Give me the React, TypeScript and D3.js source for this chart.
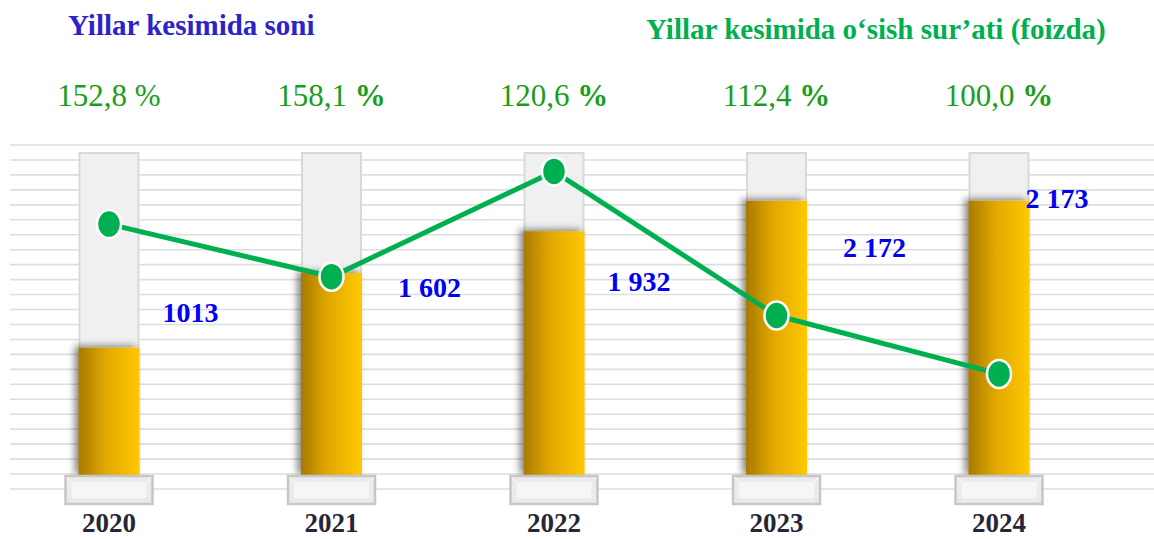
import React from 'react';
import * as d3 from 'd3';

// ---- data ----
const years = ['2020', '2021', '2022', '2023', '2024'];
const counts = [1013, 1602, 1932, 2172, 2173];
const countLabels = ['1013', '1 602', '1 932', '2 172', '2 173'];
const growthLabels = ['152,8', '158,1', '120,6', '112,4', '100,0'];
const growthBoldPct = [false, true, true, true, true];
// decorative trend line, position on a 0–100 index (0 = base, 100 = column top)
const trendIndex = [78.0, 61.7, 94.3, 49.7, 31.6];

// ---- layout (kept apart from data) ----
const W = 1154;
const H = 539;
const baseY = 476;
const colTop = 153;
const barW = 61;
const pedW = 87;
const pedH = 28;
const labelNudge: [number, number][] = [
  [23, -26],
  [36, 24],
  [23, 60],
  [36, 56],
  [-4, 7],
];

const x = d3.scalePoint<string>().domain(years).range([109, 999]);
const y = d3.scaleLinear().domain([0, 2550]).range([baseY, colTop]);
const yT = d3.scaleLinear().domain([0, 100]).range([baseY, colTop]);
const grid = d3.scaleLinear().domain([0, 23]).range([489, 145]);

const serif = '"Liberation Serif", "Times New Roman", serif';

export default function App() {
  const line = d3
    .line<number>()
    .x((_, i) => x(years[i]) as number)
    .y((d) => yT(d));

  return (
    <div style={{ position: 'absolute', left: 0, top: 0 }}>
      <svg width={W} height={H} style={{ display: 'block', background: '#fff' }}>
        <defs>
          <linearGradient id="gold" x1="0" x2="1" y1="0" y2="0">
            <stop offset="0" stopColor="#a87a00" />
            <stop offset="0.45" stopColor="#e2a800" />
            <stop offset="1" stopColor="#ffc800" />
          </linearGradient>
          <filter id="shadow" x="-40%" y="-10%" width="160%" height="120%">
            <feDropShadow dx="-4" dy="-2" stdDeviation="3.5" floodColor="#000" floodOpacity="0.45" />
          </filter>
        </defs>

        {/* grid lines */}
        {d3.range(24).map((i) => (
          <line key={i} x1={10} x2={W} y1={grid(i)} y2={grid(i)} stroke="#dedede" strokeWidth={1.6} />
        ))}

        {/* background columns */}
        {years.map((yr) => {
          const cx = x(yr) as number;
          return (
            <rect
              key={'c' + yr}
              x={cx - barW / 2 + 1}
              y={colTop}
              width={barW - 2}
              height={baseY - colTop}
              fill="#f0f0f0"
              stroke="#d9d9d9"
              strokeWidth={2}
            />
          );
        })}

        {/* gold bars */}
        {years.map((yr, i) => {
          const cx = x(yr) as number;
          return (
            <rect
              key={'b' + yr}
              x={cx - barW / 2}
              y={y(counts[i])}
              width={barW}
              height={baseY - y(counts[i])}
              fill="url(#gold)"
              filter="url(#shadow)"
            />
          );
        })}

        {/* pedestals */}
        {years.map((yr) => {
          const cx = x(yr) as number;
          const px = cx - pedW / 2;
          const py = baseY;
          const ins = 6;
          return (
            <g key={'p' + yr}>
              <rect x={px} y={py} width={pedW} height={pedH} fill="#ebebeb" stroke="#c6c6c6" strokeWidth={2.5} />
              <rect x={px + ins} y={py + ins} width={pedW - 2 * ins} height={pedH - 2 * ins} fill="#f6f6f6" />
              <line x1={px + 1} y1={py + 1} x2={px + ins} y2={py + ins} stroke="#fbfbfb" strokeWidth={1} />
              <line x1={px + pedW - 1} y1={py + 1} x2={px + pedW - ins} y2={py + ins} stroke="#fbfbfb" strokeWidth={1} />
              <line x1={px + 1} y1={py + pedH - 1} x2={px + ins} y2={py + pedH - ins} stroke="#e2e2e2" strokeWidth={1} />
              <line x1={px + pedW - 1} y1={py + pedH - 1} x2={px + pedW - ins} y2={py + pedH - ins} stroke="#e2e2e2" strokeWidth={1} />
            </g>
          );
        })}

        {/* trend line */}
        <path d={line(trendIndex) || ''} fill="none" stroke="#00b050" strokeWidth={5} strokeLinejoin="round" />
        {trendIndex.map((v, i) => (
          <ellipse
            key={'m' + i}
            cx={x(years[i]) as number}
            cy={yT(v)}
            rx={12}
            ry={14}
            fill="#00b050"
            stroke="#ffffff"
            strokeWidth={2.5}
          />
        ))}

        {/* count labels */}
        {years.map((yr, i) => {
          const cx = x(yr) as number;
          return (
            <text
              key={'l' + yr}
              x={cx + barW / 2 + labelNudge[i][0]}
              y={y(counts[i]) + labelNudge[i][1]}
              fontFamily={serif}
              fontWeight="bold"
              fontSize={28}
              fill="#0000f0"
            >
              {countLabels[i]}
            </text>
          );
        })}

        {/* growth percentage labels */}
        {years.map((yr, i) => (
          <text
            key={'g' + yr}
            x={x(yr) as number}
            y={106}
            textAnchor="middle"
            fontFamily={serif}
            fontSize={31}
            fill="#1a9e1a"
          >
            {growthLabels[i] + ' '}
            <tspan fontWeight={growthBoldPct[i] ? 'bold' : 'normal'}>%</tspan>
          </text>
        ))}

        {/* year labels */}
        {years.map((yr) => (
          <text
            key={'y' + yr}
            x={x(yr) as number}
            y={532}
            textAnchor="middle"
            fontFamily={serif}
            fontWeight="bold"
            fontSize={27}
            fill="#262636"
          >
            {yr}
          </text>
        ))}

        {/* titles */}
        <text x={68} y={35} fontFamily={serif} fontWeight="bold" fontSize={29} fill="#2b22c8">
          Yillar kesimida soni
        </text>
        <text x={646} y={39} fontFamily={serif} fontWeight="bold" fontSize={29} fill="#00b050">
          Yillar kesimida o‘sish sur’ati (foizda)
        </text>
      </svg>
    </div>
  );
}
